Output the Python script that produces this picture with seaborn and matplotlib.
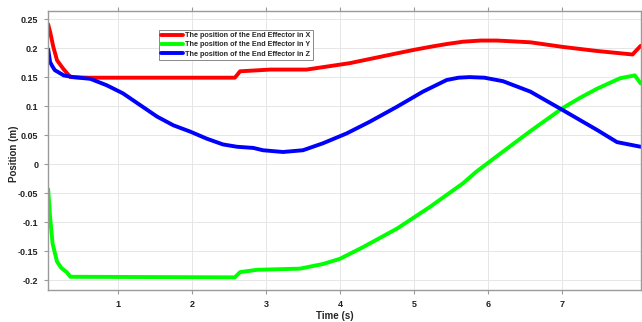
import seaborn as sns
import matplotlib.pyplot as plt
import matplotlib.ticker as mticker
import pandas as pd

# End effector position (time in s, position in m)
t_x = [0.06, 0.09, 0.13, 0.18, 0.26, 0.36, 0.6, 2.58, 2.62, 2.65, 3.06, 3.55, 4.13, 4.77,
       5.0, 5.21, 5.44, 5.66, 5.9, 6.12, 6.57, 7.01, 7.47, 7.95, 8.06]
pos_x = [0.241, 0.226, 0.202, 0.179, 0.165, 0.150, 0.149, 0.149, 0.155, 0.160, 0.163, 0.163,
         0.174, 0.191, 0.197, 0.202, 0.207, 0.211, 0.213, 0.213, 0.210, 0.202, 0.195, 0.189, 0.204]

t_y = [0.06, 0.086, 0.12, 0.18, 0.24, 0.31, 0.36, 2.58, 2.62, 2.65, 2.88, 3.46, 3.77, 4.0,
       4.31, 4.77, 5.21, 5.66, 5.84, 6.11, 6.56, 7.01, 7.25, 7.47, 7.78, 7.98, 8.06]
pos_y = [-0.043, -0.091, -0.137, -0.168, -0.179, -0.186, -0.194, -0.195, -0.190, -0.186, -0.182,
         -0.180, -0.172, -0.163, -0.143, -0.111, -0.074, -0.033, -0.013, 0.013, 0.056, 0.097,
         0.115, 0.130, 0.148, 0.153, 0.139]

t_z = [0.06, 0.086, 0.12, 0.15, 0.27, 0.40, 0.63, 0.85, 1.07, 1.30, 1.53, 1.75, 1.98, 2.20,
       2.42, 2.61, 2.83, 2.96, 3.23, 3.50, 3.77, 4.09, 4.40, 4.77, 5.12, 5.44, 5.6, 5.75, 5.95,
       6.2, 6.57, 7.01, 7.47, 7.74, 8.06]
pos_z = [0.198, 0.176, 0.168, 0.162, 0.153, 0.150, 0.147, 0.136, 0.122, 0.102, 0.082, 0.067,
         0.056, 0.044, 0.034, 0.030, 0.028, 0.024, 0.021, 0.024, 0.036, 0.053, 0.073, 0.099,
         0.125, 0.145, 0.149, 0.150, 0.149, 0.143, 0.125, 0.093, 0.059, 0.038, 0.030]

labels = ["The position of the End Effector in X",
          "The position of the End Effector in Y",
          "The position of the End Effector in Z"]
colors = ["#ff0000", "#00ff00", "#0000ff"]

frames = []
for lab, t, p in zip(labels, [t_x, t_y, t_z], [pos_x, pos_y, pos_z]):
    frames.append(pd.DataFrame({"Time": t, "Position": p, "Series": lab}))
df = pd.concat(frames, ignore_index=True)

sns.set_style("whitegrid")
plt.rcParams["font.family"] = ["Liberation Sans", "DejaVu Sans"]

fig = plt.figure(figsize=(6.42, 3.22), dpi=100)
ax = fig.add_axes([0.075, 0.099, 0.923, 0.867])

sns.lineplot(data=df, x="Time", y="Position", hue="Series", palette=colors,
             sort=False, estimator=None, linewidth=2.8, ax=ax)

ax.set_xlim(0.06, 8.06)
ax.set_ylim(-0.217, 0.264)
ax.set_xticks(range(1, 8))
ax.set_yticks([-0.2, -0.15, -0.1, -0.05, 0, 0.05, 0.1, 0.15, 0.2, 0.25])
ax.yaxis.set_major_formatter(mticker.FormatStrFormatter("%g"))
ax.grid(True, color="#e6e6e6", linewidth=0.7)

for s in ax.spines.values():
    s.set_visible(True)
    s.set_color("#9a9a9a")
    s.set_linewidth(1.0)
ax.tick_params(axis="both", which="both", direction="out", length=3, width=0.8,
               color="#9a9a9a", labelsize=6.5, pad=4,
               top=True, right=True, left=True, bottom=True)
for lbl in ax.get_xticklabels() + ax.get_yticklabels():
    lbl.set_fontweight("bold")
    lbl.set_color("#222222")

ax.set_xlabel("Time (s)", fontsize=7, fontweight="bold")
ax.set_ylabel("Position (m)", fontsize=7, fontweight="bold")
ax.xaxis.set_label_coords(0.484, -0.074)
ax.yaxis.set_label_coords(-0.050, 0.487)

leg = ax.legend(loc="upper left", bbox_to_anchor=(0.187, 0.932), fontsize=5.2,
                frameon=True, fancybox=False, edgecolor="#888888", framealpha=1,
                handlelength=3.0, handletextpad=0.3, borderpad=0.3,
                labelspacing=0.3, borderaxespad=0)
leg.get_frame().set_linewidth(0.7)
for txt in leg.get_texts():
    txt.set_fontweight("bold")
for line in leg.get_lines():
    line.set_linewidth(2.8)

fig.savefig("out.png", dpi=100)
plt.close(fig)
